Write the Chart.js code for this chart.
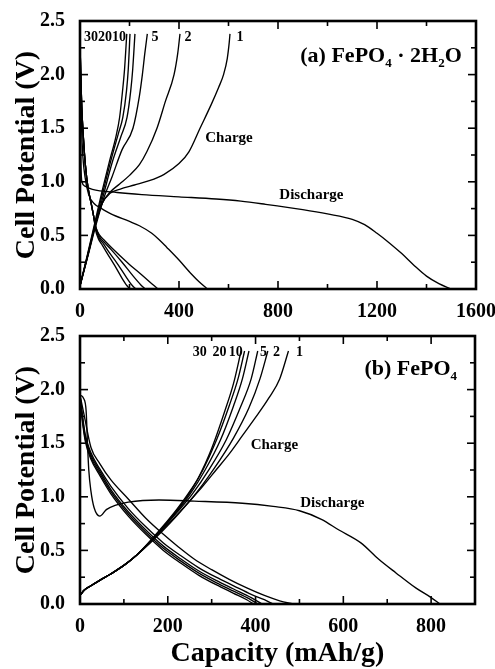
<!DOCTYPE html>
<html><head><meta charset="utf-8">
<script src="https://cdn.jsdelivr.net/npm/chart.js@4/dist/chart.umd.min.js"></script>
<style>
html,body{margin:0;padding:0;background:#fff;overflow:hidden;width:495px;height:669px;}
#wa{position:absolute;left:0;top:0;width:495px;height:325px;}
#wb{position:absolute;left:0;top:325px;width:495px;height:344px;}
</style></head><body>
<div id="wa"><canvas id="ca"></canvas></div>
<div id="wb"><canvas id="cb"></canvas></div>
<script>
// ---------- Panel (a): FePO4·2H2O  [capacity mAh/g, potential V] ----------
const aCharge1 = [[0,0.03],[30,0.3],[60,0.58],[90,0.8],[120,0.89],[160,0.93],[220,0.97],[280,1.01],[340,1.07],[400,1.17],[440,1.28],[485,1.5],[530,1.72],[560,1.88],[580,2.0],[595,2.15],[603,2.3],[606,2.38]];
const aCharge2 = [[0,0.03],[30,0.3],[60,0.58],[90,0.8],[120,0.9],[160,0.98],[200,1.06],[240,1.16],[270,1.28],[311,1.5],[345,1.75],[380,2.0],[395,2.2],[404,2.38]];
const aCharge5 = [[0,0.03],[30,0.29],[60,0.56],[95,0.84],[130,1.05],[170,1.3],[214,1.5],[240,1.8],[252,2.0],[262,2.2],[272,2.38]];
const aCharge10 = [[0,0.03],[30,0.3],[60,0.58],[95,0.88],[130,1.18],[165,1.42],[190,1.6],[205,1.85],[213,2.05],[222,2.38]];
const aCharge20 = [[0,0.03],[30,0.31],[60,0.6],[90,0.88],[125,1.2],[155,1.45],[173,1.6],[188,1.85],[195,2.05],[202,2.38]];
const aCharge30 = [[0,0.03],[30,0.32],[60,0.62],[90,0.92],[120,1.2],[145,1.42],[160,1.6],[172,1.85],[180,2.05],[189,2.38]];
const aDis1 = [[0,2.2],[2,1.6],[4,1.15],[8,1.0],[20,0.96],[50,0.93],[150,0.9],[250,0.88],[400,0.86],[550,0.84],[650,0.82],[750,0.79],[900,0.74],[1000,0.7],[1100,0.65],[1150,0.6],[1200,0.52],[1250,0.43],[1300,0.33],[1350,0.22],[1400,0.12],[1450,0.05],[1500,0]];
const aDis2 = [[0,2.25],[4,1.7],[10,1.3],[20,1.05],[35,0.88],[60,0.79],[80,0.76],[125,0.7],[200,0.63],[240,0.59],[290,0.52],[320,0.46],[350,0.39],[400,0.27],[450,0.14],[480,0.07],[515,0]];
const aDis5 = [[0,2.3],[3,2.0],[7,1.7],[14,1.4],[22,1.15],[32,0.95],[45,0.8],[55,0.68],[65,0.57],[80,0.5],[100,0.45],[130,0.38],[190,0.25],[250,0.13],[290,0.05],[315,0]];
const aDis10 = [[0,2.3],[3,2.0],[7,1.7],[14,1.4],[22,1.15],[32,0.95],[45,0.8],[55,0.68],[65,0.57],[78,0.49],[100,0.43],[125,0.37],[170,0.25],[215,0.12],[245,0.04],[263,0]];
const aDis20 = [[0,2.3],[3,2.0],[7,1.7],[14,1.4],[22,1.15],[32,0.95],[45,0.8],[55,0.68],[64,0.56],[76,0.48],[95,0.42],[115,0.35],[150,0.24],[190,0.1],[212,0.03],[226,0]];
const aDis30 = [[0,2.3],[3,2.0],[7,1.7],[14,1.4],[22,1.15],[32,0.95],[45,0.8],[55,0.68],[63,0.55],[74,0.47],[90,0.41],[108,0.34],[140,0.22],[170,0.1],[190,0.03],[202,0]];

// ---------- Panel (b): FePO4 ----------
const bCharge1 = [[0,0.08],[10,0.13],[25,0.17],[45,0.22],[70,0.28],[100,0.36],[130,0.46],[160,0.57],[190,0.69],[220,0.82],[250,0.96],[280,1.1],[310,1.25],[340,1.4],[370,1.57],[400,1.74],[430,1.92],[455,2.1],[475,2.36]];
const bCharge2 = [[0,0.08],[10,0.13],[25,0.17],[45,0.22],[70,0.28],[100,0.36],[130,0.46],[160,0.58],[190,0.7],[225,0.85],[260,1.01],[305,1.26],[350,1.55],[385,1.83],[410,2.1],[428,2.36]];
const bCharge5 = [[0,0.08],[10,0.13],[25,0.17],[45,0.22],[70,0.28],[100,0.36],[130,0.46],[160,0.58],[190,0.71],[220,0.85],[255,1.02],[295,1.26],[333,1.53],[365,1.83],[390,2.1],[405,2.36]];
const bCharge10 = [[0,0.08],[10,0.13],[25,0.17],[45,0.22],[70,0.28],[100,0.36],[130,0.46],[160,0.58],[190,0.72],[220,0.86],[250,1.02],[285,1.25],[320,1.53],[350,1.85],[370,2.1],[385,2.36]];
const bCharge20 = [[0,0.08],[10,0.13],[25,0.17],[45,0.22],[70,0.28],[100,0.36],[130,0.46],[160,0.58],[190,0.72],[220,0.87],[250,1.04],[280,1.25],[310,1.52],[340,1.85],[360,2.1],[375,2.36]];
const bCharge30 = [[0,0.08],[10,0.13],[25,0.17],[45,0.22],[70,0.28],[100,0.36],[130,0.46],[160,0.59],[190,0.73],[220,0.88],[245,1.02],[270,1.18],[300,1.45],[330,1.8],[350,2.06],[367,2.36]];
const bDis1 = [[0,1.95],[8,1.92],[14,1.8],[17,1.5],[20,1.25],[25,1.05],[32,0.9],[45,0.82],[60,0.88],[80,0.92],[110,0.95],[180,0.97],[260,0.96],[370,0.94],[440,0.91],[500,0.87],[550,0.79],[590,0.69],[640,0.57],[680,0.42],[720,0.29],[765,0.15],[800,0.06],[820,0]];
const bDis2 = [[0,1.95],[10,1.75],[25,1.46],[45,1.31],[70,1.16],[110,0.98],[150,0.8],[190,0.65],[225,0.53],[260,0.42],[300,0.32],[340,0.23],[380,0.15],[420,0.08],[455,0.03],[485,0]];
const bDis5 = [[0,1.95],[5,1.78],[12,1.58],[25,1.41],[45,1.26],[70,1.1],[110,0.89],[150,0.72],[190,0.57],[230,0.45],[270,0.34],[310,0.25],[350,0.17],[390,0.09],[420,0.04],[440,0]];
const bDis10 = [[0,1.94],[5,1.76],[12,1.56],[25,1.39],[45,1.24],[70,1.07],[110,0.86],[150,0.69],[190,0.54],[230,0.42],[270,0.31],[310,0.22],[350,0.14],[390,0.06],[415,0]];
const bDis20 = [[0,1.93],[5,1.74],[12,1.54],[25,1.37],[45,1.22],[70,1.05],[110,0.84],[150,0.67],[190,0.52],[230,0.4],[270,0.29],[310,0.2],[350,0.12],[385,0.05],[405,0]];
const bDis30 = [[0,1.92],[5,1.72],[12,1.52],[25,1.35],[45,1.2],[70,1.03],[110,0.82],[150,0.65],[190,0.5],[230,0.38],[270,0.27],[310,0.18],[350,0.1],[380,0.04],[395,0]];

// tick settings
const aXTicks = {min:0, max:1600, step:200, major:400};
const bXTicks = {min:0, max:900, step:100, major:200};
const yTicks = {min:0, max:2.5, step:0.25, major:0.5};

const FONT = "'Liberation Serif','Times New Roman',serif";

const toXY = arr => arr.map(p => ({x:p[0], y:p[1]}));
const ds = arr => ({data: toXY(arr), borderColor:'#000', borderWidth:1.35, pointRadius:0, fill:false, cubicInterpolationMode:'monotone'});

const frameTicks = {
  id:'frameTicks',
  afterDatasetsDraw(chart, args, o){
    const {ctx, chartArea:a, scales} = chart;
    const xs = scales.x, ys = scales.y;
    ctx.save();
    ctx.strokeStyle = '#000';
    ctx.lineWidth = 1.6;
    const seg = (x1,y1,x2,y2)=>{ctx.beginPath();ctx.moveTo(x1,y1);ctx.lineTo(x2,y2);ctx.stroke();};
    xs.ticks.forEach(t=>{
      const px = xs.getPixelForValue(t.value);
      const maj = Math.abs(t.value/o.xMajor - Math.round(t.value/o.xMajor))<1e-6;
      const L = maj?8:5;
      seg(px,a.bottom,px,a.bottom-L); seg(px,a.top,px,a.top+L);
    });
    ys.ticks.forEach(t=>{
      const py = ys.getPixelForValue(t.value);
      const maj = Math.abs(t.value/o.yMajor - Math.round(t.value/o.yMajor))<1e-6;
      const L = maj?8:5;
      seg(a.left,py,a.left+L,py); seg(a.right,py,a.right-L,py);
    });
    ctx.lineWidth = 2.6;
    ctx.strokeRect(a.left,a.top,a.right-a.left,a.bottom-a.top);
    // text annotations
    ctx.fillStyle = '#000';
    ctx.textBaseline = 'middle';
    ctx.textAlign = 'center';
    (o.texts||[]).forEach(t=>{
      ctx.font = 'bold '+t.size+'px '+FONT;
      ctx.fillText(t.text, xs.getPixelForValue(t.x), ys.getPixelForValue(t.y));
    });
    // panel label with subscripts
    const L = o.panel;
    if (L){
      let px = xs.getPixelForValue(L.x);
      const base = ys.getPixelForValue(L.y);
      ctx.textAlign = 'left';
      ctx.textBaseline = 'alphabetic';
      L.parts.forEach(p=>{
        ctx.font = 'bold '+p.s+'px '+FONT;
        ctx.fillText(p.t, px, base + (p.dy||0));
        px += ctx.measureText(p.t).width;
      });
    }
    ctx.restore();
  }
};

function makeChart(id, sets, xt, opts){
  const tickFont = {family:FONT, size:20, weight:'bold'};
  return new Chart(document.getElementById(id), {
    type:'line',
    data:{datasets: sets.map(ds)},
    options:{
      responsive:true, maintainAspectRatio:false, animation:false, devicePixelRatio:1,
      layout:{padding:{top:opts.padTop, right:opts.padRight, left:0, bottom:0}},
      plugins:{legend:{display:false}, tooltip:{enabled:false},
        frameTicks:{xMajor:xt.major, yMajor:yTicks.major, texts:opts.texts, panel:opts.panel}},
      scales:{
        x:{type:'linear', min:xt.min, max:xt.max,
          grid:{display:false}, border:{display:false},
          afterFit:s=>{s.height = opts.xH; s.paddingLeft = 0; s.paddingRight = 0;},
          ticks:{stepSize:xt.step, autoSkip:false, maxRotation:0, color:'#000', font:tickFont, padding:opts.xPad,
            callback:v=> (Math.abs(v/xt.major-Math.round(v/xt.major))<1e-6 ? String(Math.round(v)) : '')},
          title:{display:opts.xTitle, text:'Capacity (mAh/g)', color:'#000',
            font:{family:FONT, size:28, weight:'bold', lineHeight:1}, padding:{top:0,bottom:1}}
        },
        y:{type:'linear', min:yTicks.min, max:yTicks.max,
          grid:{display:false}, border:{display:false},
          afterFit:s=>{s.width = 80; s.paddingTop = 0; s.paddingBottom = 0;},
          ticks:{stepSize:yTicks.step, autoSkip:false, color:'#000', font:tickFont, padding:7,
            callback:v=>{const r=Math.round(v*100); return r%50===0 ? (r/100).toFixed(1) : '';}},
          title:{display:true, text:'Cell Potential (V)', color:'#000',
            font:{family:FONT, size:28, weight:'bold', lineHeight:1.2}, padding:{top:10,bottom:0}}
        }
      }
    },
    plugins:[frameTicks]
  });
}

makeChart('ca', [aCharge1,aCharge2,aCharge5,aCharge10,aCharge20,aCharge30,aDis1,aDis2,aDis5,aDis10,aDis20,aDis30], aXTicks, {
  padTop:21, padRight:19, xH:36, xPad:3, xTitle:false,
  texts:[
    {text:'302010', x:101, y:2.35, size:14},
    {text:'5', x:303, y:2.35, size:14},
    {text:'2', x:436, y:2.35, size:14},
    {text:'1', x:646, y:2.35, size:14},
    {text:'Charge', x:602, y:1.41, size:15},
    {text:'Discharge', x:935, y:0.88, size:15}
  ],
  panel:{x:890, y:2.12, parts:[{t:'(a) FePO',s:22},{t:'4',s:13,dy:5},{t:' \u00B7 2H',s:22},{t:'2',s:13,dy:5},{t:'O',s:22}]}
});

makeChart('cb', [bCharge1,bCharge2,bCharge5,bCharge10,bCharge20,bCharge30,bDis1,bDis2,bDis5,bDis10,bDis20,bDis30], bXTicks, {
  padTop:11, padRight:20, xH:65, xPad:3, xTitle:true,
  texts:[
    {text:'30', x:273, y:2.35, size:14},
    {text:'20', x:318, y:2.35, size:14},
    {text:'10', x:355, y:2.35, size:14},
    {text:'5', x:418, y:2.35, size:14},
    {text:'2', x:448, y:2.35, size:14},
    {text:'1', x:500, y:2.35, size:14},
    {text:'Charge', x:443, y:1.48, size:15},
    {text:'Discharge', x:575, y:0.94, size:15}
  ],
  panel:{x:648, y:2.14, parts:[{t:'(b) FePO',s:22},{t:'4',s:13,dy:5}]}
});
</script>
</body></html>
